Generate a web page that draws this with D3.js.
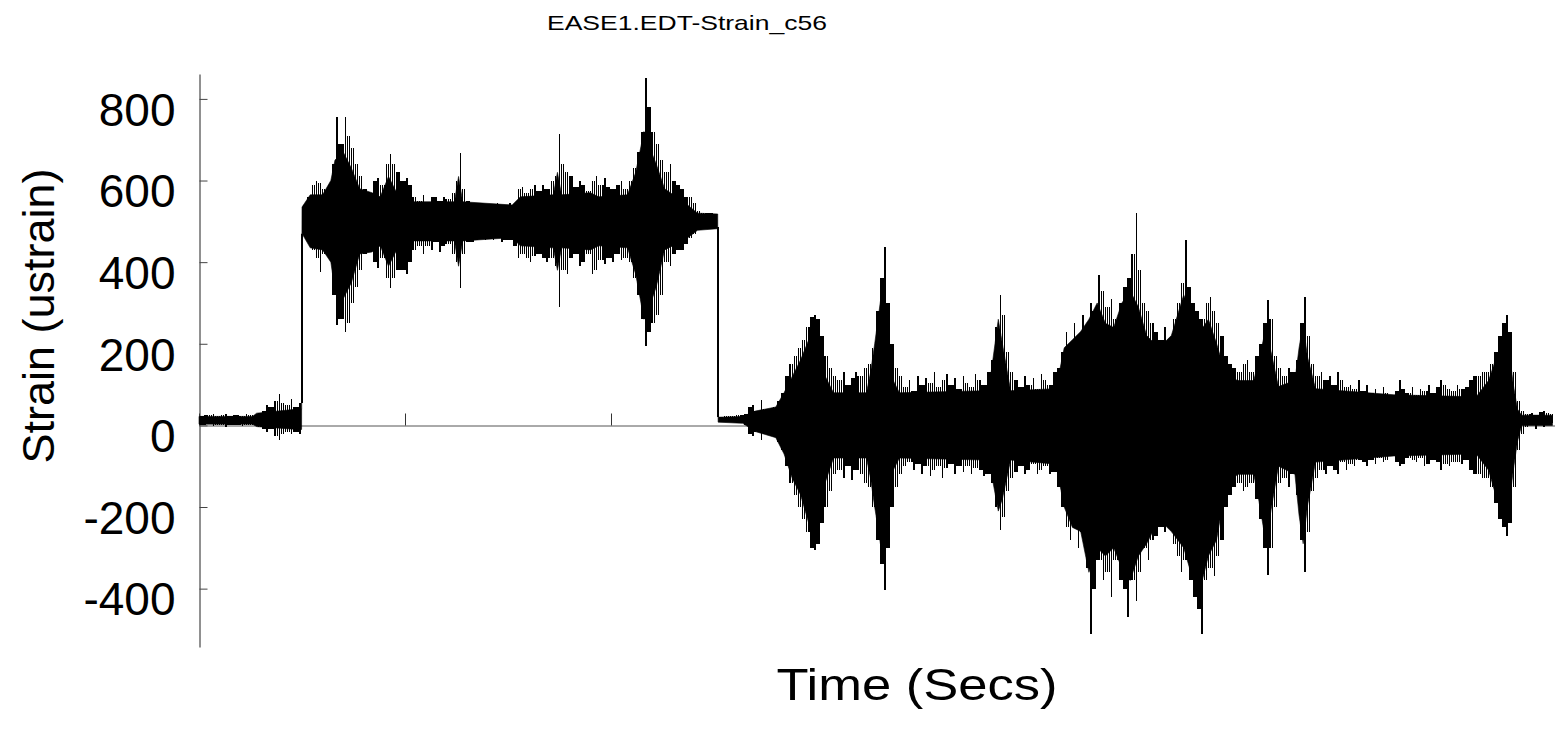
<!DOCTYPE html>
<html><head><meta charset="utf-8">
<script src="https://cdn.jsdelivr.net/npm/d3@7"></script>
<style>body{margin:0;background:#fff}svg{display:block}text{font-family:"Liberation Sans",Arial,sans-serif;fill:#000}</style>
</head><body><svg id="c" width="1556" height="729"></svg>
<script>
const chartTitle = "EASE1.EDT-Strain_c56";
const xLabel = "Time (Secs)";
const yLabel = "Strain (ustrain)";
const yTicks = [800, 600, 400, 200, 0, -200, -400];
const xTicks = [0, 50, 100, 150, 200, 250, 300];
const timeStart = 0;   // seconds, first envelope bin
const timeStep = 1;    // seconds per envelope bin
// upper envelope (peak) of the strain trace per bin (ustrain)
const envMax = [
24,26,25,28,23,25,27,24,26,25,24,27,25,26,
30,35,50,45,60,78,55,50,65,45,55,
540,560,590,600,595,580,590,640,755,690,755,710,680,640,610,580,570,600,605,590,640,665,640,620,600,605,590,560,550,565,545,560,560,550,560,555,570,600,667,580,550,545,540,545,540,535,540,545,540,535,545,540,580,585,570,580,590,575,590,580,600,610,715,640,620,610,585,600,590,575,600,610,590,605,585,580,590,600,580,600,630,670,720,850,780,720,690,650,620,640,600,590,580,560,560,545,525,520,520,520,515,
20,22,22,22,25,25,28,45,50,35,62,40,30,45,60,80,
120,150,170,190,210,240,265,270,260,220,170,140,120,110,130,100,115,130,120,140,150,190,280,360,437,300,200,140,120,95,110,85,120,100,115,105,130,95,110,125,100,115,90,120,105,95,125,110,100,130,160,240,320,270,180,130,110,95,120,100,115,90,125,110,100,130,140,180,230,200,250,220,270,240,300,280,368,330,290,310,260,300,340,360,420,520,380,300,280,250,230,210,240,200,260,300,350,455,340,300,280,260,300,315,280,250,220,170,150,140,130,150,160,130,170,200,250,307,260,170,140,120,140,130,160,250,315,220,150,120,130,110,120,100,130,110,95,100,90,110,85,100,80,90,75,95,80,70,85,110,90,80,95,75,90,85,100,80,95,110,100,90,85,100,90,95,110,120,120,130,130,150,180,220,250,270,230,130,60,35,28,30,26,32,35,30,28
];
// lower envelope (trough) of the strain trace per bin (ustrain)
const envMin = [
2,0,3,-2,1,0,-3,2,0,1,-1,2,0,1,
-5,-10,-15,-8,-25,-36,-20,-15,-20,-15,-20,
470,450,430,410,375,420,440,320,245,260,230,250,300,340,380,420,430,400,385,410,360,337,360,380,380,370,400,430,440,420,440,430,450,425,440,445,420,400,337,420,450,450,455,460,455,460,455,460,450,455,455,440,410,420,410,400,415,420,410,400,410,390,290,380,370,410,420,390,400,420,370,380,405,395,410,400,420,405,410,400,360,320,260,195,230,250,270,320,400,390,420,430,430,445,460,470,480,485,480,485,485,
8,8,8,8,5,5,0,-20,-25,-15,-36,-20,-10,-15,-40,-60,
-100,-140,-170,-200,-230,-260,-300,-305,-290,-240,-200,-160,-120,-110,-130,-100,-135,-110,-120,-140,-150,-200,-280,-340,-403,-300,-200,-150,-120,-100,-90,-110,-95,-120,-100,-125,-110,-100,-130,-105,-95,-120,-100,-115,-100,-120,-105,-110,-125,-120,-140,-200,-256,-225,-160,-130,-115,-100,-120,-110,-95,-120,-110,-100,-120,-115,-150,-200,-250,-280,-230,-300,-260,-350,-510,-400,-330,-380,-360,-420,-330,-380,-400,-470,-380,-430,-360,-300,-330,-280,-270,-250,-260,-240,-290,-320,-360,-330,-380,-420,-450,-510,-380,-350,-370,-320,-280,-200,-170,-150,-140,-160,-150,-140,-180,-230,-300,-366,-300,-200,-140,-130,-150,-120,-170,-280,-360,-260,-160,-130,-110,-120,-100,-110,-120,-90,-110,-95,-100,-85,-90,-100,-85,-95,-80,-90,-85,-75,-90,-100,-95,-80,-85,-90,-80,-100,-95,-85,-90,-110,-95,-100,-90,-90,-95,-85,-110,-120,-120,-130,-130,-150,-190,-230,-250,-270,-240,-150,-60,-20,-5,0,-10,2,-5,0,5
];
// solid (dense) core band of the trace, at knot times (seconds, ustrain)
const coreTime = [0,13,14,24,24.9,25,27,30,32,33,35,37,39,42,44,46,48,52,62,63,64,76,78,86,87,88,95,97,104,106,108,109,111,113,118,121,125.9,126,132,135,140,142,144,146,148,149,150,152,154,162,163,164,166,167,168,170,191,192,194,195,197,208,210,212,214,216,218,220,222,224,226,228,230,233,236,239,241,243,245,247,249,252,256,257,259,260,262,266,267,268,269,271,290,310,313,315,317,318,319,320,321,328.5];
const coreHi = [22,22,30,40,40,535,565,565,600,650,670,630,580,570,560,610,570,548,548,610,548,540,560,565,620,565,570,560,565,620,720,690,640,580,545,520,518,20,22,35,45,80,120,160,210,230,200,120,80,80,130,200,350,220,120,80,85,110,260,200,85,90,190,210,230,260,300,250,240,300,330,290,220,190,220,320,270,230,260,200,130,110,110,150,240,190,95,110,190,250,170,90,75,70,110,170,210,180,100,40,25,25];
const coreLo = [3,3,-3,-10,-10,470,435,430,400,330,310,350,420,425,440,390,430,452,452,390,452,460,440,435,380,435,430,440,435,370,260,280,340,430,455,478,482,8,5,-15,-30,-70,-130,-170,-240,-260,-230,-140,-80,-80,-130,-200,-330,-220,-120,-80,-85,-100,-210,-180,-85,-95,-200,-250,-260,-360,-300,-320,-300,-350,-380,-320,-290,-230,-260,-300,-370,-400,-320,-280,-160,-120,-120,-170,-290,-220,-100,-120,-220,-290,-200,-90,-75,-70,-110,-180,-210,-190,-110,-40,0,0];

const svg = d3.select("#c");
const x = d3.scaleLinear().domain([0, 329]).range([199, 1554.5]);
const y = d3.scaleLinear().domain([-543, 861]).range([647, 74]);

// title
svg.append("text").attr("x", 687).attr("y", 30).attr("text-anchor", "middle")
  .attr("font-size", 21).attr("textLength", 280).attr("lengthAdjust", "spacingAndGlyphs")
  .text(chartTitle);

// y axis
const ya = svg.append("g").attr("transform", "translate(199.5,0)")
  .call(d3.axisLeft(y).tickValues(yTicks).tickFormat(d => String(d))
    .tickSizeInner(-8).tickSizeOuter(0).tickPadding(24));
ya.select(".domain").attr("stroke", "#222");
ya.selectAll(".tick line").attr("stroke", "#444");
ya.selectAll(".tick text").attr("font-size", 46).attr("dy", "0.57em")
  .attr("font-family", '"Liberation Sans", Arial, sans-serif');

// x axis at zero
const xa = svg.append("g").attr("transform", `translate(0,${Math.round(y(0)) + 0.5})`)
  .call(d3.axisBottom(x).tickValues(xTicks).tickSizeInner(-12).tickSizeOuter(0).tickFormat(""));
xa.select(".domain").attr("stroke", "#555");
xa.selectAll(".tick line").attr("stroke", "#333");

// dense core of the signal
const core = coreTime.map((t, i) => ({ t, hi: coreHi[i], lo: coreLo[i] }));
svg.append("path").datum(core)
  .attr("fill", "#000").attr("stroke", "#000").attr("stroke-width", 0.6)
  .attr("d", d3.area().x(d => x(d.t)).y0(d => y(d.lo)).y1(d => y(d.hi)));

// oscillation strokes: each bin's full swing, plus shared swing at bin borders
const bins = envMax.map((v, i) => ({ t: timeStart + i * timeStep, hi: v, lo: envMin[i] }));
let pd = "";
bins.forEach((b, i) => {
  pd += `M${x(b.t + timeStep / 2)},${y(b.hi)}V${y(b.lo)}`;
  if (i > 0) {
    const p = bins[i - 1];
    pd += `M${x(b.t)},${y(Math.min(p.hi, b.hi))}V${y(Math.max(p.lo, b.lo))}`;
  }
});
svg.append("path").attr("d", pd)
  .attr("fill", "none").attr("stroke", "#000").attr("stroke-width", 1.5)
  .attr("shape-rendering", "crispEdges");

// axis labels
svg.append("text").attr("x", 917).attr("y", 700).attr("text-anchor", "middle")
  .attr("font-size", 45).attr("textLength", 281).attr("lengthAdjust", "spacingAndGlyphs")
  .text(xLabel);
svg.append("text").attr("transform", "translate(54,316) rotate(-90)").attr("text-anchor", "middle")
  .attr("font-size", 45).text(yLabel);
</script></body></html>
